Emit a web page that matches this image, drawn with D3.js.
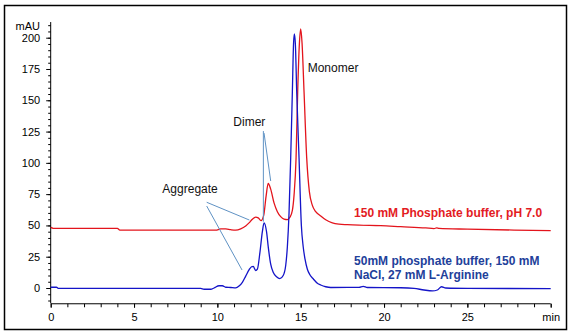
<!DOCTYPE html>
<html>
<head>
<meta charset="utf-8">
<script src="https://cdn.jsdelivr.net/npm/d3@7"></script>
<style>
  html, body { margin: 0; padding: 0; background: #fff; }
  svg { display: block; font-family: "Liberation Sans", Arial, sans-serif; }
</style>
</head>
<body>
<svg id="chart" width="574" height="336"></svg>
<script>
// Retention time (min) and absorbance (mAU) for the two buffer conditions
const redTime = [0, 0.15, 4.0, 4.15, 6, 9.9, 10.2, 10.5, 10.8, 11.1, 11.4, 11.7, 11.9, 12.1, 12.3, 12.45, 12.62, 12.78, 12.92, 13.05, 13.2, 13.4, 13.6, 13.8, 14.0, 14.2, 14.35, 14.5, 14.6, 14.72, 14.82, 14.92, 15.0, 15.08, 15.2, 15.36, 15.52, 15.7, 15.9, 16.16, 16.5, 16.9, 17.3, 17.8, 18.5, 19.8, 21, 22.5, 23.0, 23.15, 23.3, 25, 27.8, 30];
const redMAU  = [48.4, 47.7, 47.6, 46.3, 46.2, 46.2, 47.2, 47.3, 46.6, 46.2, 47.2, 49.5, 52, 55, 56.6, 56, 53.8, 58, 73, 83.5, 79, 68, 61, 57, 55, 54.6, 56.5, 62, 74, 103, 157, 195, 207, 196, 157, 104, 77, 66, 61, 58, 54.5, 52, 51, 50.6, 50.2, 49.8, 49, 48, 47.5, 48, 47.6, 47, 46.3, 45.8];

const blueTime = [0, 0.35, 0.45, 9.0, 9.2, 9.6, 9.8, 10.1, 10.3, 10.5, 10.8, 11.1, 11.3, 11.5, 11.7, 11.9, 12.05, 12.15, 12.3, 12.4, 12.55, 12.7, 12.8, 12.95, 13.06, 13.2, 13.35, 13.55, 13.75, 13.95, 14.1, 14.2, 14.3, 14.4, 14.5, 14.57, 14.62, 14.68, 14.76, 14.9, 15.04, 15.15, 15.26, 15.4, 15.56, 15.76, 16.0, 16.2, 16.5, 16.8, 18.5, 18.75, 19.0, 21, 21.8, 22.4, 22.9, 23.2, 23.45, 23.7, 25, 30];
const blueMAU  = [0.6, 0.6, -0.3, -0.3, -1, -1, 0, 1.8, 1.8, 0.6, 0.4, 0.1, 1.5, 4.5, 9.5, 14.5, 17, 17.3, 14, 15, 28, 45, 52, 45, 32, 19, 12.5, 9, 7.5, 10, 18, 33, 60, 104, 157, 195, 203, 195, 157, 104, 50, 33, 23, 15, 10.4, 7.2, 3.8, 2.4, 1.0, 0.4, 0.5, 1.3, 0.4, 0.2, -0.3, -1.6, -2.3, -1.6, 1, 0, -0.3, -0.5];

// Axis tick values
const xMajorTicks = [0, 5, 10, 15, 20, 25, 30];
const xTickLabels = ["0", "5", "10", "15", "20", "25", "min"];
const xMinorTicks = d3.range(0, 31, 1);
const yMajorTicks = [0, 25, 50, 75, 100, 125, 150, 175, 200];
const yMinorTicks = d3.range(-10, 211, 5);

// Peak annotations: label anchor and leader-line ends in data units (min, mAU)
const peakLabels = [
  { text: "Monomer",   t: 15.42, v: 172.8 },
  { text: "Dimer",     t: 10.96, v: 129.4 },
  { text: "Aggregate", t: 6.7,   v: 76.2 }
];
const leaders = [
  { t1: 12.76, v1: 125.4, t2: 12.76, v2: 53 },
  { t1: 12.80, v1: 123.8, t2: 13.2,  v2: 85.5 },
  { t1: 9.36,  v1: 68.5,  t2: 11.92, v2: 54.3 },
  { t1: 9.36,  v1: 65.5,  t2: 11.48, v2: 14.4 }
];

const redLegend = ["150 mM Phosphate buffer, pH 7.0"];
const blueLegend = ["50mM phosphate buffer, 150 mM", "NaCl, 27 mM L-Arginine"];

const svg = d3.select("#chart");

// Outer frame
svg.append("rect")
  .attr("x", 4.5).attr("y", 5.5)
  .attr("width", 562).attr("height", 324)
  .attr("fill", "none").attr("stroke", "#000").attr("stroke-width", 1.5);

const x = d3.scaleLinear().domain([0, 30]).range([50.7, 550.7]);
const y = d3.scaleLinear().domain([0, 200]).range([288, 37.7]);
const yLow = -12.2, yHigh = 212.5;

const axisFont = 11;

// Y axis
const yAxisG = svg.append("g").attr("transform", `translate(${x(0)},0)`);
yAxisG.append("line")
  .attr("x1", 0).attr("x2", 0)
  .attr("y1", y(yLow)).attr("y2", y(yHigh))
  .attr("stroke", "#000");
yAxisG.append("g")
  .call(d3.axisLeft(y).tickValues(yMinorTicks).tickSize(2.5).tickFormat(""))
  .call(g => g.select(".domain").remove());
yAxisG.append("g")
  .call(d3.axisLeft(y).tickValues(yMajorTicks).tickSize(4.5).tickPadding(6).tickFormat(d3.format("d")))
  .call(g => g.select(".domain").remove())
  .call(g => g.selectAll("text").attr("font-size", axisFont).attr("font-family", "Liberation Sans, Arial, sans-serif").attr("fill", "#000"));
svg.append("text")
  .attr("x", 40).attr("y", 29.5)
  .attr("text-anchor", "end")
  .attr("font-size", axisFont)
  .text("mAU");

// X axis
const xAxisG = svg.append("g").attr("transform", `translate(0,${y(yLow) + 0.5})`);
xAxisG.append("line")
  .attr("x1", x(0)).attr("x2", x(30))
  .attr("y1", 0).attr("y2", 0)
  .attr("stroke", "#000");
xAxisG.append("g")
  .call(d3.axisBottom(x).tickValues(xMinorTicks).tickSize(3.5).tickFormat(""))
  .call(g => g.select(".domain").remove());
xAxisG.append("g")
  .call(d3.axisBottom(x).tickValues(xMajorTicks).tickSize(4).tickPadding(5)
    .tickFormat((d, i) => xTickLabels[i]))
  .call(g => g.select(".domain").remove())
  .call(g => g.selectAll("text").attr("font-size", axisFont).attr("font-family", "Liberation Sans, Arial, sans-serif").attr("fill", "#000"));

// Chromatogram traces
const line = d3.line()
  .x(d => x(d[0]))
  .y(d => y(d[1]))
  .curve(d3.curveMonotoneX);

const redData = d3.zip(redTime, redMAU);
const blueData = d3.zip(blueTime, blueMAU);

svg.append("path")
  .datum(redData)
  .attr("d", line)
  .attr("fill", "none")
  .attr("stroke", "#e3141c")
  .attr("stroke-width", 1.3);

svg.append("path")
  .datum(blueData)
  .attr("d", line)
  .attr("fill", "none")
  .attr("stroke", "#1414c8")
  .attr("stroke-width", 1.3);

// Leader lines from peak labels
svg.selectAll("line.leader")
  .data(leaders)
  .join("line")
  .attr("class", "leader")
  .attr("x1", d => x(d.t1)).attr("y1", d => y(d.v1))
  .attr("x2", d => x(d.t2)).attr("y2", d => y(d.v2))
  .attr("stroke", "#5f92c4")
  .attr("stroke-width", 1);

svg.selectAll("text.peak")
  .data(peakLabels)
  .join("text")
  .attr("class", "peak")
  .attr("x", d => x(d.t)).attr("y", d => y(d.v))
  .attr("font-size", 12)
  .attr("fill", "#111")
  .text(d => d.text);

// Trace labels
svg.selectAll("text.redlab")
  .data(redLegend)
  .join("text")
  .attr("class", "redlab")
  .attr("x", x(18.2)).attr("y", (d, i) => y(57) + i * 14.3)
  .attr("font-size", 12).attr("font-weight", "bold")
  .attr("fill", "#e31b23")
  .text(d => d);

svg.selectAll("text.bluelab")
  .data(blueLegend)
  .join("text")
  .attr("class", "bluelab")
  .attr("x", x(18.2)).attr("y", (d, i) => y(18.4) + i * 14.3)
  .attr("font-size", 12).attr("font-weight", "bold")
  .attr("fill", "#22409a")
  .text(d => d);
</script>
</body>
</html>
